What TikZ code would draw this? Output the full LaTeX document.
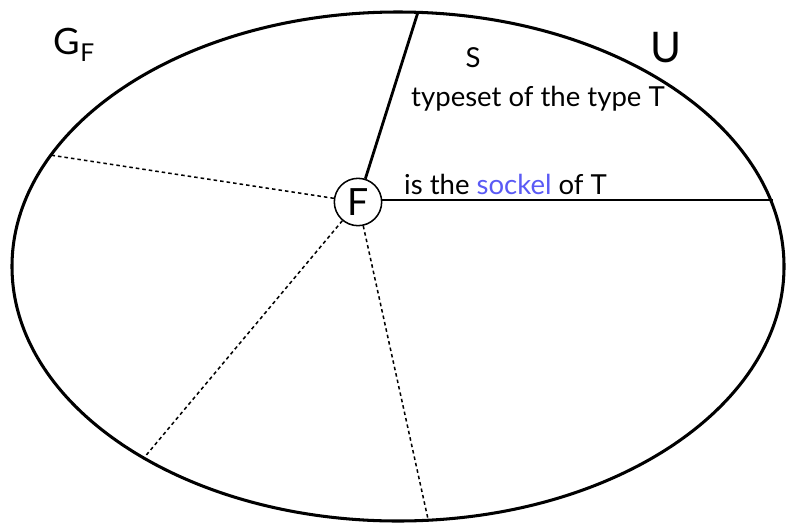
\documentclass[tikz,border=0pt]{standalone}
\usepackage{fontspec}
\setmainfont{Lato}
\usetikzlibrary{positioning, calc}
\definecolor{sBlue}{HTML}{5A5AF5}

\begin{document}
\begin{tikzpicture}[
  x=0.03cm, y=-0.03cm,
  every node/.style={font=\fontsize{23.5}{26}\selectfont, inner sep=0pt},
  rim/.style={line width=2.6pt},
  ray/.style={line width=2.4pt},
  dotray/.style={line width=1.3pt, dash pattern=on 3pt off 2.6pt},
  fnode/.style={draw, circle, line width=1.3pt, minimum size=1.42cm,
                font=\fontsize{32}{34}\selectfont},
  big/.style={font=\fontsize{36}{38}\selectfont},
]
  \useasboundingbox (0,0) rectangle (786,523);

  % Outer set
  \draw[rim] (398,266.5) ellipse [x radius=386, y radius=254.5];

  % Points on the rim
  \coordinate (top) at (418,12);
  \coordinate (rgt) at (773,200);
  \coordinate (lft) at (50,155);
  \coordinate (blft) at (143,459);
  \coordinate (bot) at (428,519);

  % Centre
  \node[fnode] (F) at (358,202) {F};

  \draw[ray] (F) -- (top);
  \draw[ray] (F.east |- rgt) -- (rgt);
  \draw[dotray] (F) -- (lft);
  \draw[dotray] (F) -- (blft);
  \draw[dotray] (F) -- (bot);

  % Labels
  \node[font=\fontsize{31}{33}\selectfont] (gf) at (74,45)
    {G\raisebox{-0.4ex}{\fontsize{21}{23}\selectfont F}};
  \node (s) at (473,58) {S};
  \node[big] (u) at (666,48) {U};
  \node[anchor=west] (ts) at (411,99) {typeset of the type T};
  \node[anchor=west] (sk) at (404,184) {is the \textcolor{sBlue}{sockel} of T};
\end{tikzpicture}
\end{document}
